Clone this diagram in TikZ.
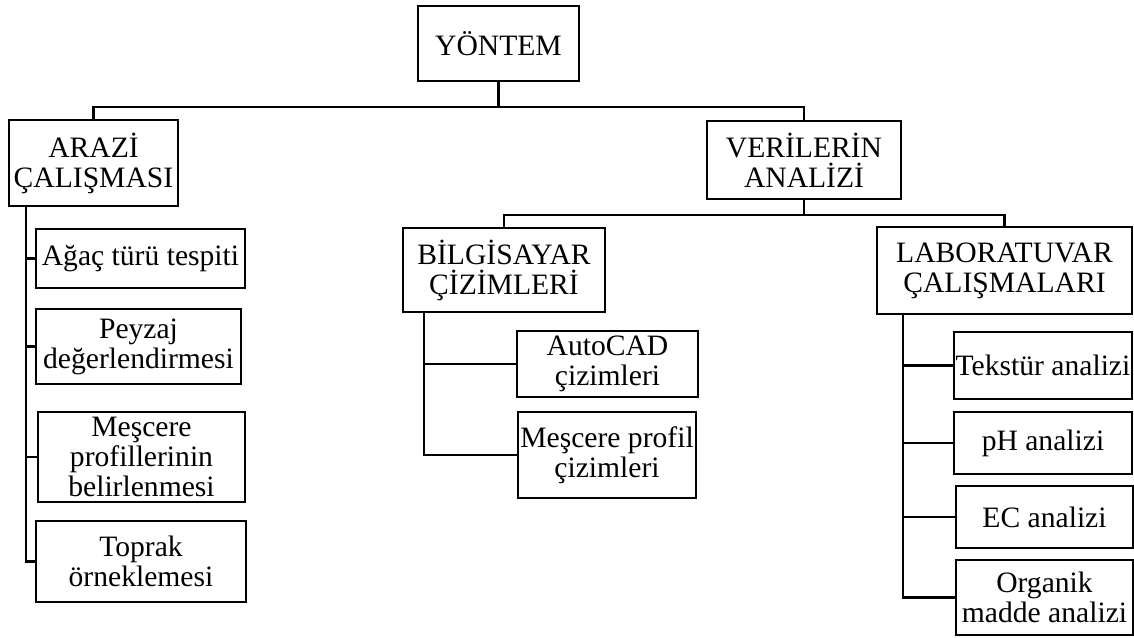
\documentclass[tikz,border=0pt]{standalone}
\usepackage{fontspec}
\setmainfont{Liberation Serif}
\usetikzlibrary{positioning}

\begin{document}
\begin{tikzpicture}[
  x=1pt, y=-1pt,
  blk/.style={draw, line width=2.6pt, align=center, inner sep=1pt, outer sep=0pt,
              anchor=north west, font=\fontsize{29.6}{30}\selectfont},
  lnk/.style={line width=2.6pt},
]
  \useasboundingbox (0,0) rectangle (1134,637);

  %% top level
  \node[blk, minimum width=161, minimum height=75] (yon) at (418,6) {YÖNTEM};

  %% second level
  \node[blk, minimum width=169, minimum height=86] (arazi) at (9,120) {ARAZİ\\ÇALIŞMASI};
  \node[blk, minimum width=194, minimum height=78] (ver) at (707,121) {VERİLERİN\\ANALİZİ};

  %% third level
  \node[blk, minimum width=202, minimum height=84] (bil) at (403,228) {BİLGİSAYAR\\ÇİZİMLERİ};
  \node[blk, minimum width=255, minimum height=87] (lab) at (877,227) {LABORATUVAR\\ÇALIŞMALARI};

  %% field work items
  \node[blk, minimum width=209, minimum height=59] (agac) at (36,229) {Ağaç türü tespiti};
  \node[blk, minimum width=205, minimum height=75] (peyzaj) at (36,309) {Peyzaj\\değerlendirmesi};
  \node[blk, minimum width=207, minimum height=90] (mescere) at (38,412) {Meşcere\\profillerinin\\belirlenmesi};
  \node[blk, minimum width=210, minimum height=81] (toprak) at (36,521) {Toprak\\örneklemesi};

  %% computer drawing items
  \node[blk, minimum width=181, minimum height=66] (autocad) at (517,331) {AutoCAD\\çizimleri};
  \node[blk, minimum width=178, minimum height=86] (mprofil) at (518,412) {Meşcere profil\\çizimleri};

  %% laboratory items
  \node[blk, minimum width=178, minimum height=67] (tekstur) at (954,332) {Tekstür analizi};
  \node[blk, minimum width=178, minimum height=62] (ph) at (954,412) {pH analizi};
  \node[blk, minimum width=177, minimum height=62] (ec) at (956,486) {EC analizi};
  \node[blk, minimum width=177, minimum height=75] (organik) at (956,560) {Organik\\madde analizi};

  %% tree connectors
  \coordinate (top) at (yon.south |- 0,107);
  \draw[lnk] (yon.south) -- (top);
  \draw[lnk] (arazi.north) |- (top) -| (ver.north);

  \coordinate (mid) at (ver.south |- 0,215);
  \draw[lnk] (ver.south) -- (mid);
  \draw[lnk] (bil.north) |- (mid) -| (lab.north);

  %% side buses
  \coordinate (ab) at ([xshift=17pt]arazi.south west);
  \draw[lnk] (ab) |- (toprak.west);
  \foreach \n in {agac,peyzaj,mescere}
    \draw[lnk] (ab |- \n.west) -- (\n.west);

  \coordinate (bb) at ([xshift=21pt]bil.south west);
  \draw[lnk] (bb) |- (mprofil.west);
  \draw[lnk] (bb |- autocad.west) -- (autocad.west);

  \coordinate (lb) at ([xshift=26pt]lab.south west);
  \draw[lnk] (lb) |- (organik.west);
  \foreach \n in {tekstur,ph,ec}
    \draw[lnk] (lb |- \n.west) -- (\n.west);
\end{tikzpicture}
\end{document}
